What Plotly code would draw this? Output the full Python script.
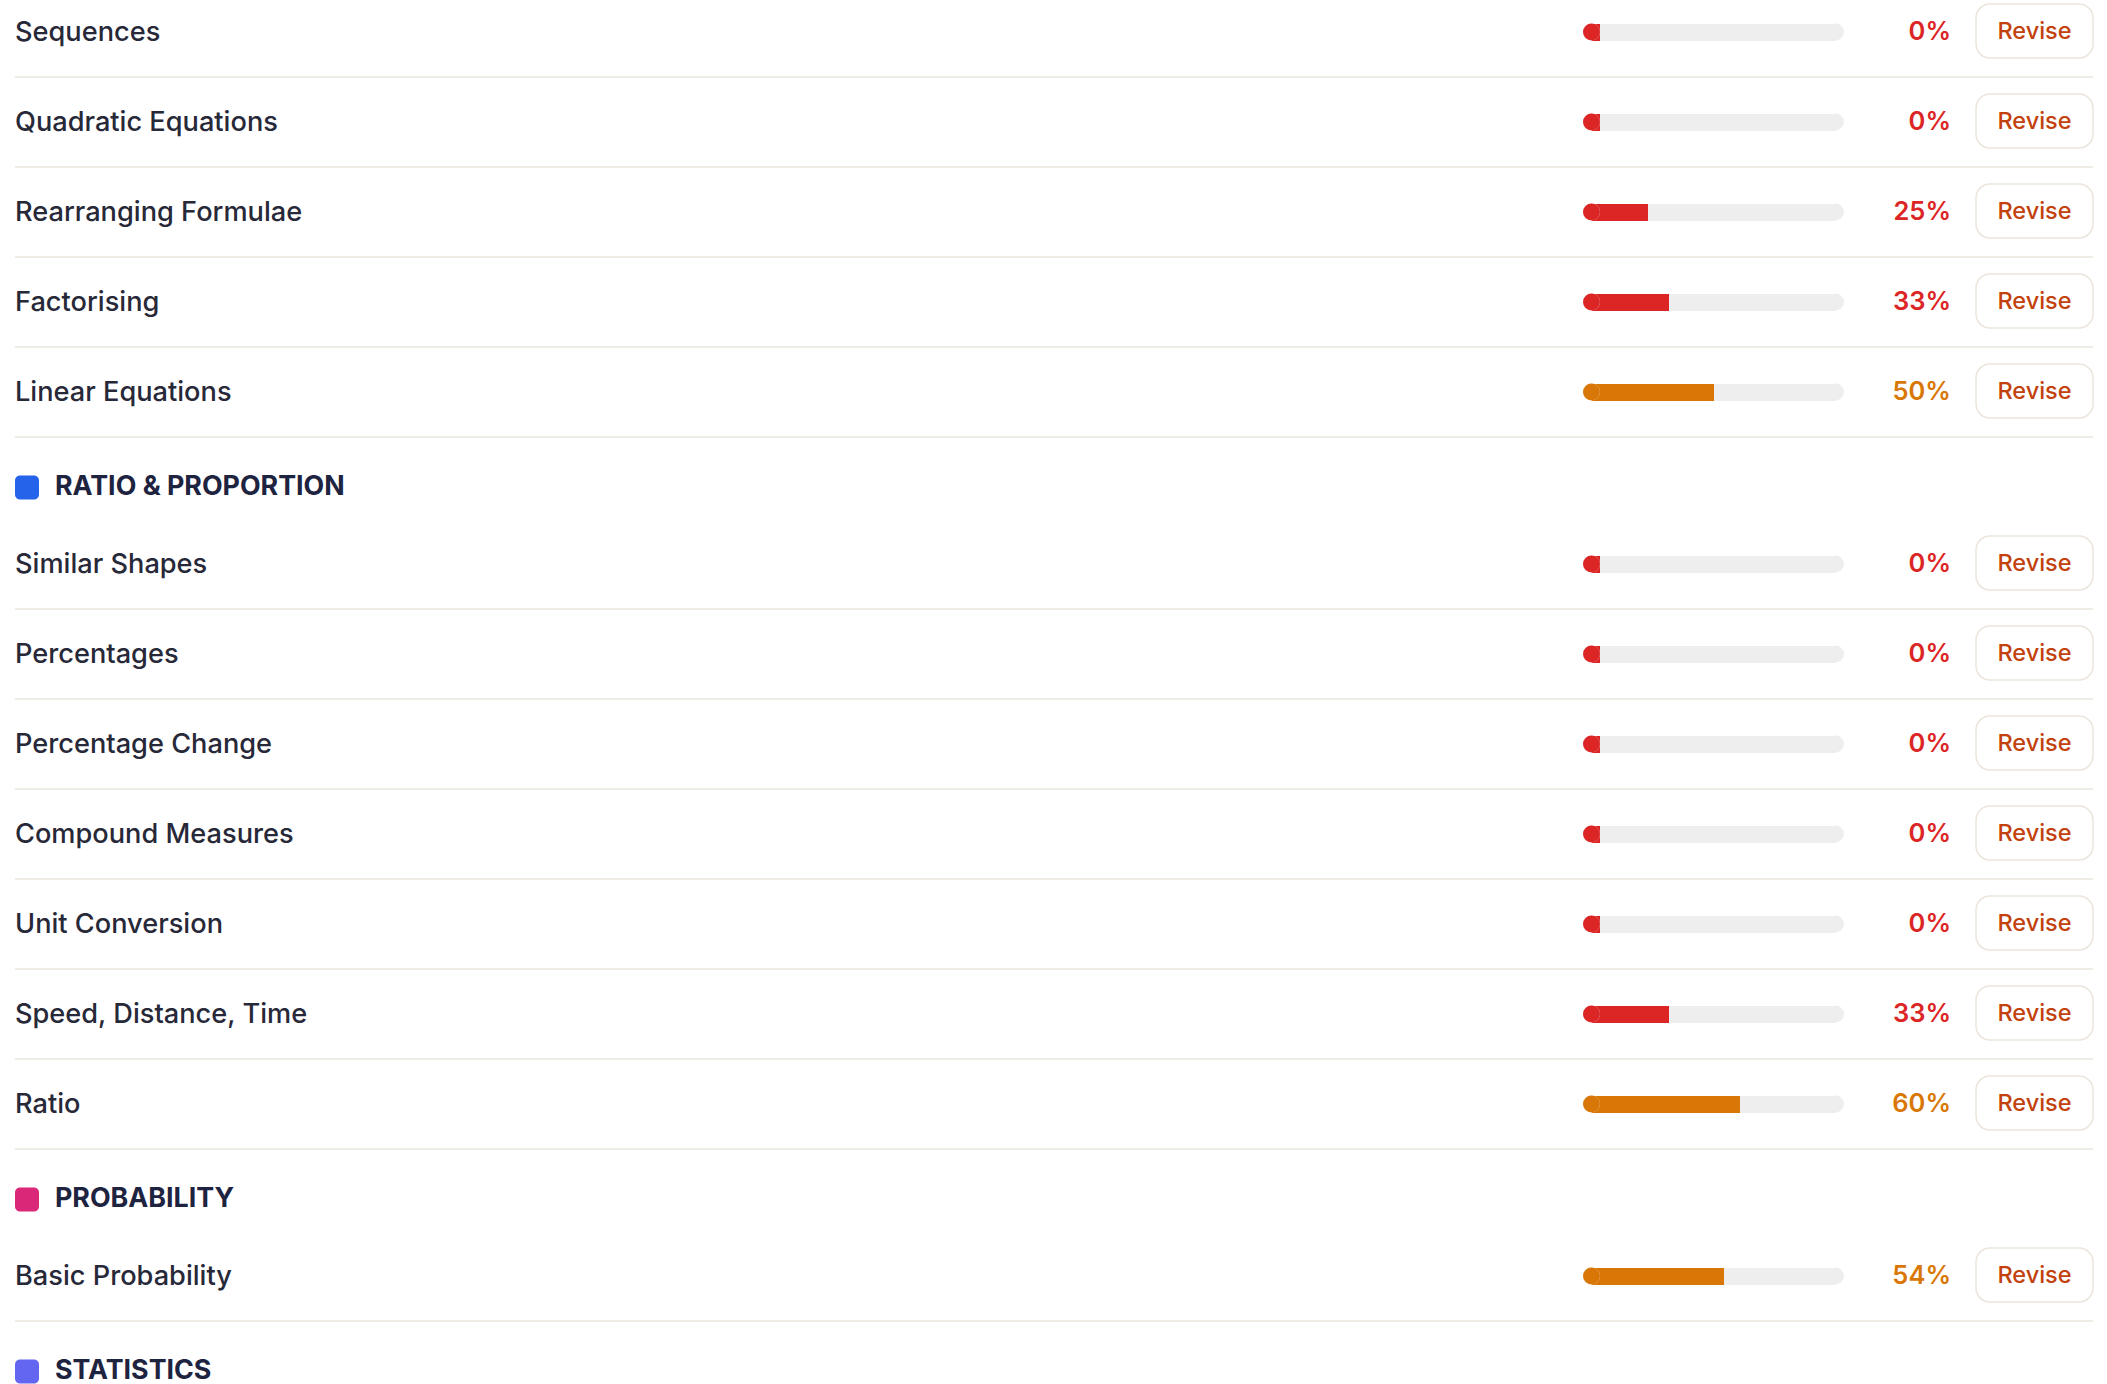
import plotly.graph_objects as go

# ---------------- data ----------------
topics = ["Sequences", "Quadratic Equations", "Rearranging Formulae", "Factorising",
          "Linear Equations", "Similar Shapes", "Percentages", "Percentage Change",
          "Compound Measures", "Unit Conversion", "Speed, Distance, Time", "Ratio",
          "Basic Probability"]
scores = [0, 0, 25, 33, 50, 0, 0, 0, 0, 0, 33, 60, 54]
# section header placed just before the topic with that index (13 = after the last topic)
section_names = ["RATIO & PROPORTION", "PROBABILITY", "STATISTICS"]
section_before = [5, 12, 13]
section_colors = ["#2563eb", "#db2777", "#6366f1"]
button_label = "Revise"

# ---------------- style ----------------
W, H = 2107, 1384
FONT = "Inter"
LABEL_COLOR = "#272838"
HEADER_COLOR = "#1e2340"
RED, ORANGE = "#dc2626", "#d97706"
TRACK = "#eeeeee"
DIVIDER = "#efece6"
BTN_BORDER = "#ebe5dc"
BTN_TEXT = "#c2410c"
BAR_X0, BAR_X1 = 1583, 1844
BAR_H = 17
MIN_FILL = 6.4          # visible stub for 0 %
PCT_RIGHT = 1951
BTN_X0, BTN_X1, BTN_H = 1976, 2093, 54
LEFT = 15
TEXT_DY = 2
ROW_PITCH, ROW_TO_HEAD, HEAD_TO_ROW = 90, 95.5, 76.5

# vertical layout (pixels, downward)
row_y, head_y = [], []
y = 32
for i in range(len(topics) + 1):
    if i in section_before:
        hy = (row_y[-1] + ROW_TO_HEAD) if row_y else y
        head_y.append(hy)
        y = hy + HEAD_TO_ROW
    elif i > 0:
        y = row_y[-1] + ROW_PITCH
    if i < len(topics):
        row_y.append(y)

n = len(topics)
colors = [RED if s < 50 else ORANGE for s in scores]
fill_len = [max(s, MIN_FILL) for s in scores]
text_y = [v + TEXT_DY for v in row_y]
R = (BAR_H / 2) / (BAR_X1 - BAR_X0) * 100   # cap radius in axis units

fig = go.Figure()

# topic labels
fig.add_trace(go.Scatter(x=[LEFT] * n, y=text_y, mode="text", text=topics,
                         textposition="middle right",
                         textfont=dict(family=FONT, size=27.2, color=LABEL_COLOR, weight=500),
                         hoverinfo="skip", showlegend=False))
# percentages
fig.add_trace(go.Scatter(x=[PCT_RIGHT] * n, y=text_y, mode="text",
                         text=[f"{s}%" for s in scores], textposition="middle left",
                         textfont=dict(family=FONT, size=25.5, color=colors, weight=600),
                         hoverinfo="skip", showlegend=False))
# button labels
fig.add_trace(go.Scatter(x=[(BTN_X0 + BTN_X1) / 2] * n, y=[v - 1 for v in text_y],
                         mode="text", text=[button_label] * n,
                         textposition="middle center",
                         textfont=dict(family=FONT, size=23.5, color=BTN_TEXT, weight=500),
                         hoverinfo="skip", showlegend=False))
# section headers
fig.add_trace(go.Scatter(x=[55] * len(section_names), y=[v + 1 for v in head_y],
                         mode="text", text=section_names, textposition="middle right",
                         textfont=dict(family=FONT, size=26.8, color=HEADER_COLOR, weight=700),
                         hoverinfo="skip", showlegend=False))

bar_common = dict(y=row_y, orientation="h", width=BAR_H, xaxis="x2", yaxis="y",
                  hoverinfo="skip", showlegend=False)
cap_common = dict(mode="markers", xaxis="x2", yaxis="y", hoverinfo="skip",
                  showlegend=False, cliponaxis=False)
# track body + round caps at both ends
fig.add_trace(go.Bar(x=[100 - 2 * R] * n, base=[R] * n,
                     marker=dict(color=TRACK, line=dict(width=0)), **bar_common))
fig.add_trace(go.Scatter(x=[R] * n + [100 - R] * n, y=row_y + row_y,
                         marker=dict(symbol="circle", size=BAR_H, color=TRACK, line=dict(width=0)),
                         **cap_common))
# fill body (flat right end) + round cap on the left
fig.add_trace(go.Bar(x=[f - R for f in fill_len], base=[R] * n,
                     marker=dict(color=colors, line=dict(width=0)), **bar_common))
fig.add_trace(go.Scatter(x=[R] * n, y=row_y,
                         marker=dict(symbol="circle", size=BAR_H, color=colors, line=dict(width=0)),
                         **cap_common))


def rrect(x0, y0, x1, y1, r):
    k = 0.5523 * r
    return (f"M{x0 + r},{y0} L{x1 - r},{y0} C{x1 - r + k},{y0} {x1},{y0 + r - k} {x1},{y0 + r} "
            f"L{x1},{y1 - r} C{x1},{y1 - r + k} {x1 - r + k},{y1} {x1 - r},{y1} "
            f"L{x0 + r},{y1} C{x0 + r - k},{y1} {x0},{y1 - r + k} {x0},{y1 - r} "
            f"L{x0},{y0 + r} C{x0},{y0 + r - k} {x0 + r - k},{y0} {x0 + r},{y0} Z")


shapes = []
for ry in row_y:
    shapes.append(dict(type="line", xref="x", yref="y", x0=LEFT, x1=BTN_X1,
                       y0=ry + 45, y1=ry + 45, line=dict(color=DIVIDER, width=2), layer="below"))
    shapes.append(dict(type="path", xref="x", yref="y",
                       path=rrect(BTN_X0, ry - 1 - BTN_H / 2, BTN_X1, ry - 1 + BTN_H / 2, 14),
                       line=dict(color=BTN_BORDER, width=1.5), fillcolor="white", layer="below"))
for hy, c in zip(head_y, section_colors):
    shapes.append(dict(type="path", xref="x", yref="y",
                       path=rrect(LEFT, hy - 12, LEFT + 24, hy + 12, 5),
                       line=dict(width=0), fillcolor=c))

fig.update_layout(
    width=W, height=H, margin=dict(l=0, r=0, t=0, b=0),
    paper_bgcolor="white", plot_bgcolor="rgba(0,0,0,0)",
    barmode="overlay", bargap=0,
    xaxis=dict(range=[0, W], domain=[0, 1], visible=False, fixedrange=True),
    xaxis2=dict(range=[0, 100], domain=[BAR_X0 / W, BAR_X1 / W], anchor="y",
                visible=False, fixedrange=True),
    yaxis=dict(range=[H, 0], domain=[0, 1], visible=False, fixedrange=True),
    shapes=shapes,
    showlegend=False,
)

fig.write_html("out.html", config={"displayModeBar": False},
               post_script="document.body.style.margin='0';")
